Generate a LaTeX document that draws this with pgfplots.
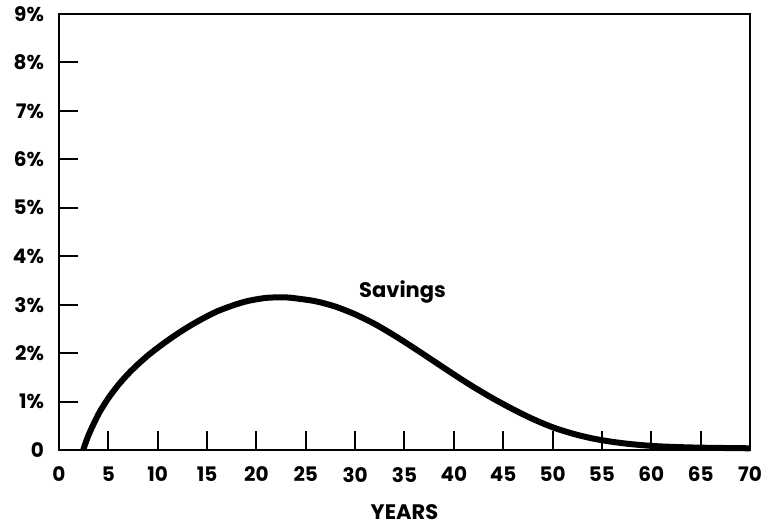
\documentclass[border=0pt]{standalone}
\usepackage{fontspec}
\setmainfont{Poppins}
\usepackage{pgfplots}
\pgfplotsset{compat=1.18}
\usetikzlibrary{calc}
\begin{document}
\begin{tikzpicture}
\begin{axis}[
  name=ax,
  at={(0,0)},
  scale only axis,
  width=345.5pt, height=218pt,
  xmin=0, xmax=70, ymin=0, ymax=9,
  axis line style={line width=1pt},
  tick style={line width=1pt, black},
  tick align=inside,
  xtick pos=bottom, ytick pos=left,
  major tick length=9.5pt,
  xtick={0,5,...,70},
  ytick={0,1,...,9},
  yticklabels={0,1\%,2\%,3\%,4\%,5\%,6\%,7\%,8\%,9\%},
  xticklabel style={font=\bfseries\fontsize{10}{11}\selectfont, yshift=-5pt},
  yticklabel style={font=\bfseries\fontsize{10}{11}\selectfont, xshift=-4pt},
  /pgf/number format/assume math mode=true,
  xlabel={YEARS},
  xlabel style={font=\bfseries\fontsize{10.5}{11}\selectfont, yshift=-4.5pt},
  clip=false,
]
\addplot[black, line width=3pt, smooth, tension=0.5] coordinates {
(2.45,0) (3,0.31) (4,0.74) (5,1.07) (6,1.34) (7,1.57) (8,1.77) (9,1.95) (10,2.11)
(11,2.26) (12,2.40) (13,2.53) (14,2.65) (15,2.76) (16,2.86) (17,2.94) (18,3.01)
(19,3.07) (20,3.11) (21,3.14) (22,3.15) (23,3.15) (24,3.13) (26,3.07)
(28,2.96) (30,2.80) (32,2.60) (34,2.36) (36,2.10) (38,1.83) (40,1.56) (42,1.30)
(44,1.06) (46,0.84) (48,0.64) (50,0.47) (52,0.34) (54,0.24) (56,0.17) (58,0.12)
(60,0.085) (62,0.065) (65,0.048) (70,0.035)
};
\node[font=\bfseries\fontsize{10.5}{11}\selectfont] at (axis cs:34.8,3.27) {Savings};
\end{axis}
\pgfresetboundingbox
\path ($(ax.south west)+(-29.5pt,-39pt)$) rectangle ($(ax.north east)+(9.5pt,7pt)$);
\end{tikzpicture}
\end{document}
